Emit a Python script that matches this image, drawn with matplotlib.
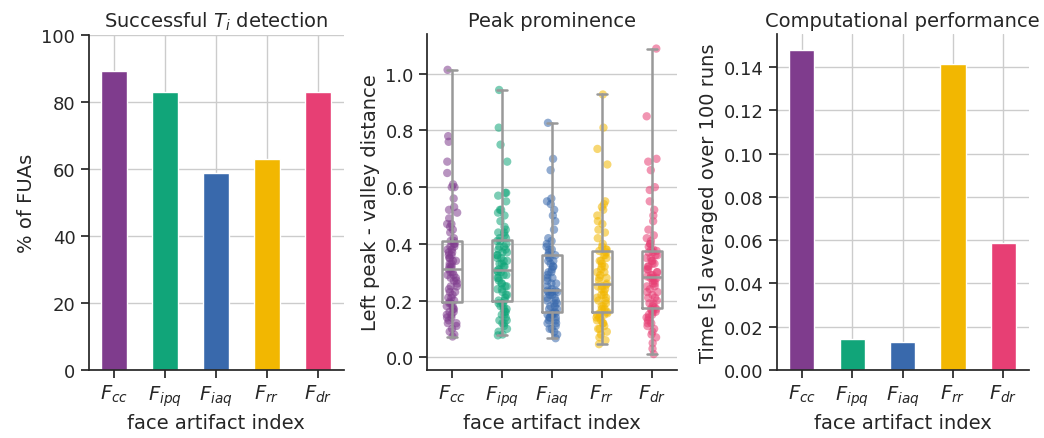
import matplotlib
matplotlib.use("Agg")
import matplotlib.pyplot as plt
import numpy as np
import pandas as pd
import seaborn as sns

sns.set_theme(style="ticks")
plt.rcParams['font.family'] = ['DejaVu Sans']

labels = ["$F_{cc}$", "$F_{ipq}$", "$F_{iaq}$", "$F_{rr}$", "$F_{dr}$"]
colors = ["#7F3C8D", "#11A579", "#3969AC", "#F2B701", "#E73F74"]

# successful T_i detection, % of FUAs
success = [89.2, 83.1, 58.8, 63.1, 83.1]

# computational performance, seconds averaged over 100 runs
timing = [0.1479, 0.0144, 0.0130, 0.1414, 0.0589]

# left peak - valley distance per FUA
prom_cc = [0.073, 0.08, 0.09, 0.10, 0.11, 0.12, 0.12, 0.13, 0.14, 0.14, 0.15, 0.15, 0.16, 0.16, 0.17, 0.17, 0.18, 0.18, 0.19, 0.19,
           0.195, 0.20, 0.21, 0.21, 0.22, 0.23, 0.23, 0.24, 0.25, 0.25, 0.26, 0.27, 0.27, 0.28, 0.28, 0.29, 0.29, 0.30, 0.30, 0.31,
           0.315, 0.32, 0.32, 0.33, 0.33, 0.34, 0.34, 0.35, 0.35, 0.36, 0.36, 0.37, 0.37, 0.38, 0.38, 0.39, 0.39, 0.40, 0.40, 0.41,
           0.41, 0.42, 0.44, 0.45, 0.46, 0.47, 0.47, 0.49, 0.51, 0.52, 0.53, 0.56, 0.60, 0.60, 0.61, 0.65, 0.69, 0.76, 0.78, 1.014]
prom_ipq = [0.077, 0.08, 0.09, 0.10, 0.11, 0.12, 0.12, 0.13, 0.13, 0.14, 0.15, 0.15, 0.16, 0.16, 0.17, 0.17, 0.18, 0.18, 0.19, 0.19,
            0.20, 0.20, 0.21, 0.22, 0.22, 0.23, 0.24, 0.24, 0.25, 0.25, 0.26, 0.26, 0.27, 0.28, 0.28, 0.29, 0.29, 0.30, 0.30, 0.305,
            0.31, 0.32, 0.32, 0.33, 0.33, 0.34, 0.34, 0.35, 0.35, 0.36, 0.36, 0.37, 0.37, 0.38, 0.38, 0.39, 0.39, 0.40, 0.41, 0.41,
            0.42, 0.42, 0.43, 0.44, 0.44, 0.45, 0.46, 0.48, 0.50, 0.51, 0.52, 0.52, 0.55, 0.57, 0.58, 0.58, 0.69, 0.75, 0.81, 0.943]
prom_iaq = [0.067, 0.08, 0.09, 0.10, 0.10, 0.11, 0.12, 0.12, 0.13, 0.13, 0.14, 0.14, 0.14, 0.15, 0.15, 0.15, 0.155, 0.155,
            0.16, 0.17, 0.17, 0.18, 0.18, 0.19, 0.19, 0.20, 0.20, 0.21, 0.21, 0.22, 0.22, 0.23, 0.23, 0.23, 0.235, 0.235,
            0.24, 0.25, 0.26, 0.26, 0.27, 0.28, 0.28, 0.29, 0.30, 0.30, 0.31, 0.32, 0.32, 0.33, 0.34, 0.34, 0.35, 0.36,
            0.36, 0.37, 0.38, 0.38, 0.39, 0.40, 0.41, 0.42, 0.45, 0.48, 0.50, 0.52, 0.54, 0.55, 0.56, 0.66, 0.70, 0.827]
prom_rr = [0.046, 0.06, 0.07, 0.08, 0.09, 0.10, 0.10, 0.11, 0.12, 0.12, 0.13, 0.13, 0.14, 0.14, 0.15, 0.15, 0.155, 0.155,
           0.16, 0.17, 0.17, 0.18, 0.18, 0.19, 0.20, 0.20, 0.21, 0.21, 0.22, 0.22, 0.23, 0.24, 0.24, 0.25, 0.25, 0.255,
           0.26, 0.27, 0.28, 0.28, 0.29, 0.30, 0.30, 0.31, 0.32, 0.32, 0.33, 0.34, 0.34, 0.35, 0.36, 0.36, 0.37, 0.375,
           0.38, 0.38, 0.39, 0.40, 0.42, 0.44, 0.45, 0.47, 0.48, 0.50, 0.52, 0.53, 0.54, 0.55, 0.68, 0.735, 0.81, 0.927]
prom_dr = [0.011, 0.03, 0.05, 0.07, 0.08, 0.09, 0.10, 0.11, 0.12, 0.12, 0.13, 0.14, 0.14, 0.15, 0.15, 0.16, 0.16, 0.165, 0.17, 0.17,
           0.175, 0.18, 0.19, 0.19, 0.20, 0.21, 0.21, 0.22, 0.23, 0.23, 0.24, 0.25, 0.25, 0.26, 0.26, 0.27, 0.27, 0.28, 0.28, 0.28,
           0.285, 0.29, 0.29, 0.30, 0.30, 0.31, 0.31, 0.32, 0.32, 0.33, 0.33, 0.34, 0.34, 0.35, 0.35, 0.36, 0.36, 0.37, 0.37, 0.375,
           0.38, 0.38, 0.39, 0.40, 0.40, 0.41, 0.42, 0.43, 0.45, 0.48, 0.50, 0.52, 0.55, 0.59, 0.60, 0.66, 0.69, 0.70, 0.85, 1.089]
prominence = [prom_cc, prom_ipq, prom_iaq, prom_rr, prom_dr]

TICK = 13
LAB = 14
DARK = "#262626"

fig = plt.figure(figsize=(10.44, 4.39), dpi=100)
ax1 = fig.add_axes([0.0848, 0.155, 0.2443, 0.763])
ax2 = fig.add_axes([0.409, 0.155, 0.2395, 0.765])
ax3 = fig.add_axes([0.7438, 0.155, 0.2415, 0.765])

pos = np.arange(len(labels))

def style(ax, vgrid=True):
    ax.set_axisbelow(True)
    ax.yaxis.grid(True, color="#cccccc", lw=1)
    if vgrid:
        ax.xaxis.grid(True, color="#cccccc", lw=1)
    for s in ["top", "right"]:
        ax.spines[s].set_visible(False)
    for s in ["left", "bottom"]:
        ax.spines[s].set_color(DARK)
        ax.spines[s].set_linewidth(1.25)
    ax.tick_params(axis="both", labelsize=TICK, length=6, width=1.25, color=DARK, labelcolor=DARK)
    ax.set_xticks(pos)
    ax.set_xticklabels(labels, fontsize=LAB)
    ax.set_xlim(-0.5, len(labels) - 0.5)
    ax.set_xlabel("face artifact index", fontsize=LAB, color=DARK)

# panel 1
ax1.bar(pos, success, width=0.5, color=colors)
style(ax1)
ax1.set_ylim(0, 100)
ax1.set_ylabel("% of FUAs", fontsize=LAB, color=DARK)
ax1.set_title("Successful $T_i$ detection", fontsize=LAB, color=DARK)

# panel 2
df = pd.DataFrame({
    "idx": np.concatenate([[l] * len(v) for l, v in zip(labels, prominence)]),
    "val": np.concatenate(prominence),
})
np.random.seed(3)
sns.stripplot(data=df, x="idx", y="val", hue="idx", palette=colors, order=labels,
              jitter=0.11, size=6, alpha=0.55, linewidth=0, legend=False, ax=ax2, zorder=1)
gray = "#999999"
ax2.boxplot(prominence, positions=pos, widths=0.4, whis=(0, 100), showfliers=False,
            manage_ticks=False, patch_artist=False,
            boxprops=dict(color=gray, lw=1.8), whiskerprops=dict(color=gray, lw=1.8),
            capprops=dict(color=gray, lw=1.8), medianprops=dict(color=gray, lw=1.8))
style(ax2, vgrid=False)
ax2.set_ylim(-0.045, 1.14)
ax2.set_yticks([0.0, 0.2, 0.4, 0.6, 0.8, 1.0])
ax2.set_ylabel("Left peak - valley distance", fontsize=LAB, color=DARK)
ax2.set_title("Peak prominence", fontsize=LAB, color=DARK)

# panel 3
ax3.bar(pos, timing, width=0.5, color=colors)
style(ax3)
ax3.set_ylim(0, 0.1553)
yt = np.arange(0, 0.15, 0.02)
ax3.set_yticks(yt)
ax3.set_yticklabels([f"{v:.2f}" for v in yt])
ax3.set_ylabel("Time [s] averaged over 100 runs", fontsize=LAB, color=DARK)
ax3.set_title("Computational performance", fontsize=LAB, color=DARK)

fig.savefig("out.png", dpi=100)
